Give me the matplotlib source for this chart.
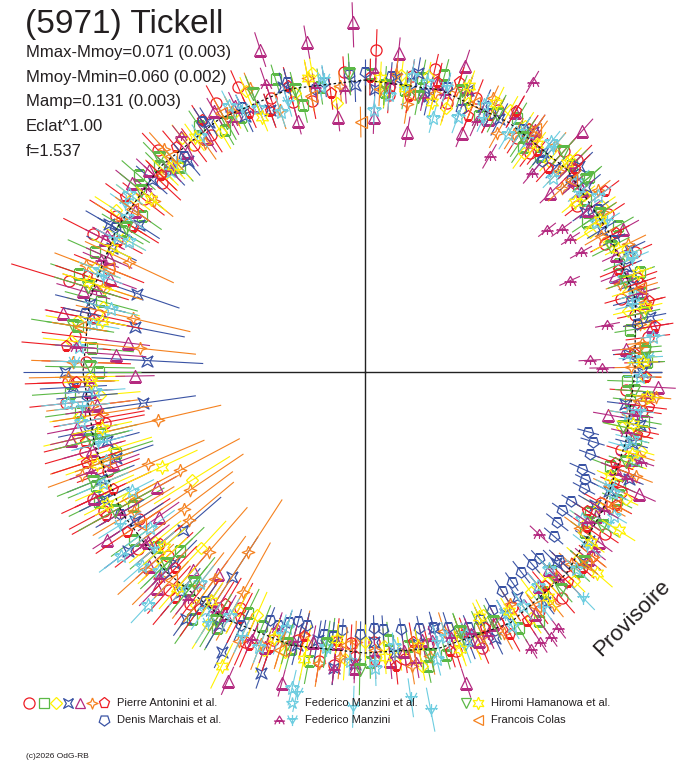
import numpy as np
import matplotlib
matplotlib.use('Agg')
import matplotlib.pyplot as plt
from matplotlib.path import Path

plt.rcParams['font.family'] = ['Liberation Sans', 'DejaVu Sans']

# phase angle (deg, clockwise from top), radius, half error bar
# Pierre Antonini et al. - red circles
pa_circ_ph = [2, 9, 17, 27, 33, 42, 48, 57, 62, 71, 78, 83, 94, 98, 107, 115, 119, 129, 134, 144, 152, 157, 167, 172, 183,
              189, 194, 204, 212, 217, 227, 232, 242, 249, 254, 264, 272, 277, 287, 292, 302, 308, 317, 323, 331, 341, 349, 356,
              5, 13, 22, 37, 45, 52, 66, 74, 88, 102, 111, 124, 139, 148, 162, 178, 186, 199, 208, 222, 237, 245, 259, 268, 282,
              297, 313, 327, 336, 345]
pa_circ_r = [322, 300, 281, 294, 279, 297, 283, 290, 272, 288, 276, 285, 262, 280, 268, 283, 270, 292, 279, 296, 284, 300, 279, 290, 271,
             293, 276, 296, 278, 290, 270, 288, 296, 275, 291, 301, 279, 292, 310, 276, 294, 281, 303, 284, 308, 290, 276, 301,
             278, 311, 296, 274, 300, 269, 296, 266, 279, 285, 276, 289, 300, 277, 293, 270, 295, 283, 267, 293, 270, 300, 265, 297, 272,
             305, 277, 283, 312, 280]
pa_circ_e = [15, 12, 14, 10, 13, 16, 11, 14, 12, 15, 13, 16, 12, 14, 11, 13, 15, 12, 14, 11, 13, 12, 14, 10, 13,
             15, 12, 18, 22, 19, 25, 21, 28, 24, 30, 26, 32, 24, 45, 27, 22, 19, 17, 15, 14, 12, 13, 11,
             13, 11, 14, 12, 15, 11, 13, 12, 14, 11, 13, 12, 14, 12, 13, 11, 14, 16, 20, 23, 27, 25, 29, 31, 28,
             24, 18, 15, 13, 12]

# green squares
pa_sq_ph = [1, 8, 15, 24, 31, 39, 45, 52, 60, 67, 74, 81, 88, 96, 104, 111, 117, 126, 133, 141, 149, 156, 164, 171, 179,
            187, 195, 202, 210, 219, 226, 234, 240, 247, 257, 262, 270, 279, 285, 294, 300, 311, 318, 326, 334, 343, 351,
            4, 11, 20, 35, 49, 56, 70, 85, 92, 100, 114, 122, 137, 145, 160, 168, 175, 191, 206, 215, 230, 244, 252, 266, 275,
            289, 305, 315, 330, 347]
pa_sq_r = [298, 285, 307, 280, 296, 278, 293, 280, 292, 276, 287, 268, 282, 266, 279, 262, 283, 272, 292, 283, 299, 280, 294, 277, 290,
           266, 287, 274, 296, 280, 257, 286, 268, 292, 272, 288, 266, 291, 273, 296, 281, 300, 276, 297, 284, 306, 289,
           281, 300, 291, 275, 297, 268, 293, 281, 262, 283, 279, 265, 272, 304, 276, 301, 269, 294, 268, 301, 272, 296, 262, 296, 274,
           302, 272, 291, 279, 274]
pa_sq_e = [11, 14, 12, 10, 13, 12, 15, 11, 13, 12, 14, 11, 13, 12, 10, 14, 12, 13, 11, 15, 12, 13, 11, 14, 12,
           13, 15, 16, 18, 21, 24, 20, 26, 22, 28, 25, 30, 23, 27, 21, 18, 16, 14, 13, 12, 11, 13,
           12, 13, 11, 14, 12, 13, 11, 12, 14, 13, 12, 11, 13, 12, 14, 12, 13, 17, 19, 22, 25, 24, 28, 27, 30,
           22, 17, 14, 12, 13]

# yellow diamonds
pa_dia_ph = [4, 12, 21, 29, 36, 44, 51, 58, 66, 73, 80, 87, 95, 102, 109, 116, 124, 131, 139, 146, 154, 161, 169, 176, 184,
             192, 200, 208, 216, 223, 231, 238, 246, 253, 261, 269, 276, 284, 291, 299, 307, 315, 322, 329, 337, 346, 354,
             7, 17, 33, 41, 55, 62, 77, 91, 106, 120, 135, 143, 158, 173, 180, 196, 204, 212, 227, 242, 257, 265, 280, 288, 303,
             318, 333, 350]
pa_dia_r = [282, 303, 288, 300, 271, 295, 282, 265, 289, 275, 283, 276, 285, 263, 281, 290, 268, 284, 278, 297, 270, 286, 299, 275, 288,
            278, 296, 270, 288, 240, 270, 204, 285, 262, 290, 275, 296, 270, 289, 276, 290, 282, 297, 280, 305, 288, 270,
            299, 276, 293, 280, 289, 276, 270, 280, 287, 270, 296, 276, 291, 284, 270, 291, 266, 297, 277, 268, 295, 266, 292, 273, 297,
            279, 290, 304]
pa_dia_e = [12, 10, 13, 11, 14, 12, 10, 13, 11, 12, 14, 12, 11, 13, 12, 10, 14, 12, 11, 13, 12, 14, 11, 13, 15,
            14, 17, 19, 22, 26, 24, 32, 23, 28, 21, 25, 20, 27, 19, 17, 15, 13, 12, 14, 11, 12, 13,
            11, 13, 12, 10, 12, 13, 11, 12, 10, 13, 11, 12, 14, 12, 13, 15, 18, 21, 24, 27, 25, 29, 23, 26, 18,
            14, 12, 11]

# blue concave stars
pa_bst_ph = [6, 13, 20, 28, 35, 43, 50, 59, 65, 72, 79, 90, 97, 105, 112, 120, 127, 135, 142, 150, 159, 165, 174, 182, 190,
             199, 207, 213, 216, 220, 229, 237, 244, 251, 258, 262, 267, 273, 281, 289, 296, 303, 312, 320, 328, 335, 344, 358,
             2, 10, 24, 39, 46, 54, 68, 75, 86, 101, 116, 131, 146, 154, 169, 178, 186, 194, 210, 225, 233, 248, 255, 270, 284,
             300, 316, 340]
pa_bst_r = [296, 283, 300, 286, 293, 279, 288, 276, 291, 282, 290, 277, 262, 276, 285, 266, 280, 270, 292, 280, 288, 265, 283, 292, 272,
            318, 314, 244, 305, 287, 241, 274, 290, 263, 283, 224, 292, 218, 234, 241, 282, 270, 287, 276, 295, 283, 296, 287,
            283, 304, 291, 283, 297, 272, 282, 275, 264, 280, 271, 289, 272, 296, 277, 270, 298, 281, 292, 270, 297, 285, 267, 300, 283,
            296, 279, 279]
pa_bst_e = [12, 14, 11, 13, 12, 10, 14, 12, 13, 11, 12, 14, 13, 12, 11, 14, 12, 13, 11, 12, 14, 12, 13, 11, 14,
            12, 13, 34, 15, 22, 36, 24, 20, 28, 22, 38, 24, 40, 36, 32, 20, 18, 15, 14, 12, 13, 11, 12,
            12, 11, 13, 12, 14, 11, 12, 13, 11, 12, 14, 12, 11, 13, 12, 14, 12, 15, 19, 23, 21, 26, 24, 30, 26,
            19, 14, 12]

# purple triangles
pa_tri_ph = [358, 350, 342, 6, 18, 345, 10, 2, 354, 22, 30, 42, 46, 54, 61, 69, 76, 85, 93, 100, 108, 114, 122, 130, 137,
             145, 153, 162, 168, 175, 182, 191, 195, 204, 214, 216, 221, 228, 235, 237, 241, 245, 250, 257, 259, 266, 269,
             274, 277, 281, 290, 297, 305, 313, 321, 330, 338,
             14, 26, 35, 50, 65, 81, 97, 111, 126, 141, 157, 172, 186, 200, 210, 224, 232, 254, 263, 286, 294, 309, 317, 326, 334]
pa_tri_r = [350, 335, 339, 321, 322, 260, 244, 255, 256, 258, 300, 324, 257, 276, 295, 268, 290, 262, 293, 247, 281, 300, 272, 291, 270,
            296, 283, 327, 274, 290, 296, 275, 322, 338, 275, 250, 262, 290, 252, 308, 238, 299, 268, 302, 293, 276, 230,
            250, 239, 308, 271, 292, 281, 296, 283, 301, 287,
            298, 281, 296, 283, 277, 291, 274, 268, 289, 276, 292, 282, 272, 293, 280, 300, 276, 284, 270, 293, 280, 300, 286, 282, 296]
pa_tri_e = [18, 12, 13, 11, 12, 10, 11, 12, 10, 11, 13, 12, 10, 12, 13, 11, 12, 10, 13, 11, 12, 13, 11, 12, 10,
            13, 12, 11, 12, 13, 11, 12, 10, 11, 14, 12, 16, 13, 18, 12, 16, 14, 20, 15, 22, 18, 14,
            22, 16, 13, 20, 16, 14, 12, 13, 11, 12,
            12, 11, 13, 12, 11, 12, 13, 11, 12, 13, 11, 12, 13, 12, 16, 18, 20, 22, 24, 20, 18, 15, 13, 12, 11]

# orange concave stars
pa_ost_ph = [3, 9, 18, 25, 32, 40, 47, 56, 64, 71, 80, 89, 95, 103, 111, 119, 126, 133, 141, 148, 156, 163, 171, 178, 185,
             193, 201, 209, 213, 218, 221, 225, 230, 233, 236, 241, 242, 247, 252, 257, 263, 269, 276, 283, 288,
             295, 302, 309, 318, 325, 333, 342, 349, 355,
             6, 14, 29, 36, 44, 52, 60, 76, 84, 99, 107, 115, 129, 137, 152, 160, 167, 182, 189, 197, 205, 216, 228, 239, 250,
             261, 272, 291, 314, 338]
pa_ost_r = [283, 271, 296, 302, 281, 296, 270, 287, 293, 270, 279, 266, 292, 277, 290, 281, 266, 282, 300, 274, 289, 271, 298, 278, 286,
            270, 291, 251, 215, 271, 238, 290, 230, 227, 211, 262, 209, 236, 289, 212, 275, 297, 226, 238, 276,
            260, 288, 272, 300, 279, 293, 275, 299, 287,
            300, 288, 273, 291, 279, 296, 272, 289, 279, 266, 286, 270, 294, 280, 296, 277, 291, 270, 295, 280, 297, 256, 295, 270, 301,
            266, 292, 299, 283, 306]
pa_ost_e = [12, 14, 12, 10, 13, 12, 14, 12, 14, 11, 12, 13, 11, 12, 13, 12, 14, 12, 11, 13, 12, 14, 13, 15, 16,
            18, 20, 40, 45, 30, 42, 28, 42, 44, 46, 35, 48, 44, 30, 46, 33, 28, 40, 42, 30,
            35, 22, 18, 16, 14, 12, 14, 12, 11,
            11, 13, 12, 14, 12, 11, 13, 12, 11, 14, 12, 13, 12, 11, 13, 12, 14, 15, 17, 20, 22, 38, 27, 34, 26,
            36, 30, 24, 16, 12]

# red pentagons
pa_pen_ph = [5, 14, 22, 30, 38, 46, 53, 61, 68, 76, 81, 91, 103, 110, 118, 125, 132, 140, 147, 155, 163, 170, 178, 186, 199,
             207, 215, 224, 236, 245, 252, 260, 268, 281, 289, 298, 306, 314, 327, 336, 345, 353,
             1, 9, 18, 26, 34, 42, 57, 72, 86, 97, 114, 122, 136, 151, 159, 174, 182, 193, 203, 211, 220, 230, 241, 256, 275,
             302, 320, 340]
pa_pen_r = [285, 299, 276, 301, 280, 292, 300, 287, 273, 293, 294, 281, 279, 266, 284, 271, 293, 280, 297, 283, 292, 274, 289, 270, 291,
            276, 289, 273, 287, 278, 293, 270, 289, 276, 294, 280, 297, 283, 300, 284, 296, 281,
            295, 279, 305, 286, 293, 274, 280, 289, 270, 286, 273, 262, 292, 300, 280, 296, 284, 271, 297, 271, 295, 268, 296, 289, 300,
            274, 294, 278]
pa_pen_e = [12, 14, 11, 13, 12, 15, 13, 11, 14, 12, 13, 11, 12, 14, 13, 12, 11, 14, 12, 13, 12, 14, 13, 16, 18,
            20, 24, 22, 27, 30, 26, 33, 28, 35, 24, 20, 17, 15, 13, 12, 14, 12,
            13, 12, 11, 14, 12, 13, 11, 12, 14, 13, 11, 12, 13, 14, 12, 13, 12, 15, 17, 22, 25, 21, 28, 30, 32,
            22, 15, 13]

# Denis Marchais et al. - blue inverted pentagons
dm_ph = [5, 12, 20, 33, 40, 55, 70, 80, 95, 105, 107, 110, 114, 118, 122, 125, 128, 137, 139, 142, 145, 148, 152, 158, 162,
         168, 172, 176, 181, 185, 189, 193, 197, 201, 206, 215, 240, 265, 300, 320, 335, 350, 357, 345, 352,
         0, 9, 16, 26, 47, 62, 88, 100, 116, 131, 134, 155, 165, 178, 187, 195, 199, 225, 282, 327]
dm_r = [297, 285, 280, 290, 276, 285, 283, 276, 282, 231, 238, 239, 238, 248, 243, 241, 244, 255, 254, 254, 256, 258, 270, 275, 268,
        262, 260, 258, 262, 259, 265, 260, 261, 266, 282, 279, 283, 279, 289, 282, 292, 287, 298, 300, 293,
        300, 293, 297, 288, 281, 282, 281, 272, 245, 250, 270, 272, 264, 256, 266, 258, 268, 284, 286, 299]
dm_e = [10, 9, 11, 10, 12, 9, 11, 10, 9, 8, 9, 8, 10, 9, 8, 9, 10, 8, 9, 10, 8, 9, 10, 9, 11,
        9, 8, 10, 9, 8, 10, 9, 8, 10, 12, 14, 20, 22, 14, 12, 10, 11, 9, 10, 11,
        9, 10, 9, 11, 10, 9, 10, 9, 8, 9, 10, 9, 8, 9, 10, 9, 8, 12, 16, 11]

# Federico Manzini et al. - cyan stars
fme_ph = [2, 9, 15, 24, 31, 39, 48, 57, 66, 74, 83, 91, 99, 108, 116, 124, 133, 141, 150, 159, 166, 174, 183, 193, 201,
          209, 218, 223, 226, 229, 233, 234, 243, 251, 260, 264, 266, 275, 284, 291, 299, 307, 316, 325, 333, 342, 351,
          5, 12, 20, 35, 44, 53, 70, 87, 104, 120, 137, 146, 163, 178, 188, 197, 214, 247, 256, 280, 303, 338]
fme_r = [262, 300, 263, 292, 278, 296, 285, 276, 290, 281, 290, 275, 266, 284, 276, 262, 289, 275, 293, 281, 296, 276, 289, 324, 295,
         279, 268, 318, 286, 296, 305, 266, 262, 274, 288, 299, 271, 287, 262, 284, 270, 295, 279, 288, 299, 273, 290,
         278, 296, 271, 283, 270, 292, 276, 268, 275, 287, 270, 282, 277, 296, 278, 268, 287, 285, 270, 276, 284, 285]
fme_e = [10, 12, 11, 9, 13, 10, 12, 11, 10, 12, 9, 11, 13, 10, 12, 11, 10, 12, 11, 9, 12, 10, 11, 13, 12,
         14, 16, 18, 15, 17, 20, 22, 18, 20, 16, 19, 22, 17, 20, 16, 14, 12, 11, 10, 12, 11, 10,
         11, 10, 12, 11, 10, 12, 11, 10, 12, 11, 10, 12, 11, 13, 12, 14, 17, 20, 22, 19, 15, 11]

# Federico Manzini - purple tripods and cyan tri
fm_a_ph = [5, 12, 20, 30, 30, 36, 40, 45, 52, 54, 57, 61, 66, 70, 79, 87, 89, 95, 103, 112, 120, 128, 133, 137, 143,
           145, 147, 149, 155, 162, 170, 178, 186, 195, 203, 212, 225, 240, 250, 262, 275, 287, 298, 310, 322, 332, 341, 350,
           2, 16, 24, 48, 74, 99, 108, 124, 158, 166, 182, 199, 218, 232, 268, 293, 316, 356]
fm_a_r = [290, 281, 298, 335, 249, 283, 260, 290, 231, 243, 245, 247, 224, 279, 247, 225, 237, 282, 268, 283, 276, 290, 238, 283, 321,
          324, 322, 323, 290, 279, 294, 283, 299, 279, 290, 282, 291, 283, 292, 283, 290, 281, 292, 286, 299, 284, 305, 289,
          300, 289, 275, 280, 288, 275, 290, 268, 282, 276, 292, 271, 288, 279, 276, 287, 281, 283]
fm_a_e = [11, 10, 12, 9, 10, 11, 10, 12, 8, 9, 8, 9, 8, 11, 9, 8, 9, 10, 11, 10, 12, 11, 9, 10, 9,
          8, 9, 8, 11, 10, 12, 11, 10, 12, 11, 13, 15, 17, 16, 14, 15, 13, 12, 11, 10, 11, 12, 10,
          10, 11, 12, 10, 11, 12, 10, 11, 12, 10, 11, 12, 14, 17, 18, 14, 12, 10]

fm_b_ph = [8, 25, 40, 58, 76, 98, 115, 128, 136, 150, 160, 169, 172, 178, 182, 188, 192, 205, 220, 238, 255, 272, 290, 305, 318, 335, 352,
           16, 33, 50, 67, 87, 106, 122, 143, 165, 198, 212, 230, 263, 298, 344]
fm_b_r = [286, 279, 293, 285, 275, 278, 270, 282, 314, 279, 293, 344, 329, 290, 335, 281, 328, 292, 283, 289, 276, 291, 279, 293, 282, 290, 296,
          296, 287, 279, 290, 283, 270, 287, 296, 280, 276, 296, 275, 285, 284, 281]
fm_b_e = [12, 10, 13, 11, 12, 10, 11, 13, 12, 11, 12, 16, 14, 12, 15, 11, 14, 13, 16, 18, 20, 17, 15, 13, 12, 11, 10,
          11, 12, 10, 13, 11, 12, 10, 11, 13, 15, 17, 19, 20, 15, 11]

# Hiromi Hamanowa et al. - green down triangles and yellow 6-stars
hh_a_ph = [4, 19, 34, 49, 63, 78, 94, 109, 123, 138, 153, 167, 181, 196, 211, 226, 241, 256, 271, 287, 301, 316, 331, 346, 357,
           11, 27, 42, 56, 71, 86, 102, 131, 160, 188, 219, 248, 279, 309, 338]
hh_a_r = [287, 297, 282, 293, 276, 285, 270, 276, 282, 293, 281, 290, 298, 283, 290, 276, 286, 282, 275, 290, 279, 297, 285, 291, 298,
          280, 290, 296, 283, 275, 281, 264, 290, 277, 275, 272, 293, 296, 288, 300]
hh_a_e = [14, 12, 16, 13, 15, 12, 14, 13, 16, 12, 14, 13, 18, 15, 22, 26, 30, 28, 32, 25, 20, 16, 14, 13, 15,
          13, 15, 12, 14, 13, 12, 15, 13, 14, 17, 24, 28, 30, 20, 14]

hh_b_ph = [3, 14, 26, 37, 51, 64, 77, 88, 101, 113, 122, 127, 131, 149, 161, 176, 186, 199, 206, 214, 229, 243, 245, 258, 268,
           281, 296, 309, 324, 338, 349,
           8, 20, 44, 57, 70, 95, 107, 141, 155, 169, 192, 221, 251, 288, 317]
hh_b_r = [294, 278, 299, 285, 270, 281, 287, 278, 273, 266, 299, 283, 307, 279, 293, 286, 268, 281, 327, 276, 266, 290, 224, 269, 274,
          268, 282, 275, 290, 275, 300,
          287, 304, 291, 280, 290, 283, 279, 290, 270, 279, 293, 286, 283, 290, 282]
hh_b_e = [12, 10, 13, 11, 12, 10, 13, 11, 12, 10, 14, 12, 15, 11, 13, 12, 11, 14, 18, 16, 20, 18, 28, 22, 20,
          18, 16, 14, 12, 11, 13,
          11, 12, 10, 13, 11, 12, 10, 13, 11, 12, 16, 20, 24, 20, 13]

# Francois Colas - orange left triangles
fc_ph = [359, 22, 47, 73, 96, 118, 144, 170, 197, 223, 251, 279, 305, 331, 349, 9, 35, 85, 131, 184, 236, 292, 318]
fc_r = [250, 290, 282, 288, 276, 283, 289, 280, 291, 284, 276, 289, 284, 296, 281, 281, 297, 270, 292, 274, 272, 277, 290]
fc_e = [11, 12, 10, 13, 11, 12, 10, 12, 14, 18, 22, 20, 15, 12, 11, 11, 12, 10, 12, 13, 20, 18, 13]

# fitted curve
model_ph = [0, 15, 30, 45, 60, 75, 90, 105, 120, 135, 150, 165, 180, 195, 210, 225, 240, 255, 270, 285, 300, 315, 330, 345, 360]
model_r = [292, 292, 288, 286, 281, 280, 270, 270, 275, 285, 290, 286, 281, 283, 284, 282, 281, 280, 282, 285, 287, 290, 292, 293, 292]

stats = ['Mmax-Mmoy=0.071 (0.003)', 'Mmoy-Mmin=0.060 (0.002)', 'Mamp=0.131 (0.003)', 'Eclat^1.00', 'f=1.537']

RED = '#ed1c24'
GREEN = '#5cb946'
YELLOW = '#fff200'
BLUE = '#3a53a4'
PURPLE = '#b42a80'
ORANGE = '#f58220'
CYAN = '#6dcde0'

ERR_SCALE = 1.4  # error bars read a bit short, stretch them

# custom marker shapes
star4 = Path([(0, 1), (0.28, 0.28), (1, 0), (0.28, -0.28), (0, -1), (-0.28, -0.28), (-1, 0), (-0.28, 0.28), (0, 1)])
star4x = Path([(1, 1), (0.45, 0), (1, -1), (0, -0.45), (-1, -1), (-0.45, 0), (-1, 1), (0, 0.45), (1, 1)])
M, L = Path.MOVETO, Path.LINETO
tripod = Path([(-0.55, -0.1), (0.55, -0.1), (0, 0.8), (-0.55, -0.1),
               (-1, -0.1), (1, -0.1),
               (-0.55, -0.1), (-0.85, -0.7),
               (0.55, -0.1), (0.85, -0.7),
               (0, -0.1), (0, -0.6)],
              [M, L, L, L, M, L, M, L, M, L, M, L])
tridown = Path([(-0.55, 0.3), (0.55, 0.3), (0, -0.6), (-0.55, 0.3),
                (-1, 0.3), (1, 0.3),
                (0, 1), (0, -1),
                (-0.55, 0.3), (-0.85, 0.9),
                (0.55, 0.3), (0.85, 0.9)],
               [M, L, L, L, M, L, M, L, M, L, M, L])

series = [
    (pa_circ_ph, pa_circ_r, pa_circ_e, 'o', RED, 8),
    (pa_sq_ph, pa_sq_r, pa_sq_e, 's', GREEN, 7),
    (pa_dia_ph, pa_dia_r, pa_dia_e, 'D', YELLOW, 6),
    (pa_bst_ph, pa_bst_r, pa_bst_e, star4x, BLUE, 8),
    (pa_tri_ph, pa_tri_r, pa_tri_e, '^', PURPLE, 8),
    (pa_ost_ph, pa_ost_r, pa_ost_e, star4, ORANGE, 9),
    (pa_pen_ph, pa_pen_r, pa_pen_e, 'p', RED, 8),
    (dm_ph, dm_r, dm_e, (5, 0, 180), BLUE, 8),
    (fme_ph, fme_r, fme_e, '*', CYAN, 10),
    (fm_a_ph, fm_a_r, fm_a_e, tripod, PURPLE, 9),
    (fm_b_ph, fm_b_r, fm_b_e, tridown, CYAN, 9),
    (hh_a_ph, hh_a_r, hh_a_e, 'v', GREEN, 8),
    (hh_b_ph, hh_b_r, hh_b_e, (6, 1, 0), YELLOW, 10),
    (fc_ph, fc_r, fc_e, '<', ORANGE, 8),
]

W, H = 688, 768
fig = plt.figure(figsize=(W / 100, H / 100), dpi=100)

cx, cy, R = 365, 372, 370
ax = fig.add_axes([(cx - R) / W, (H - cy - R) / H, 2 * R / W, 2 * R / H], projection='polar')
ax.set_theta_zero_location('N')
ax.set_theta_direction(-1)
ax.set_ylim(0, R)
ax.set_axis_off()

# cross through the centre
for ang, length in [(0, 297), (90, 296), (180, 284), (270, 298)]:
    ax.plot([np.radians(ang)] * 2, [0, length], color='#222222', lw=1.0, zorder=1)

for ph, r, e, mk, col, ms in series:
    th = np.radians(ph)
    r = np.array(r)
    e = np.array(e) * ERR_SCALE
    ax.vlines(th, r - e, r + e, colors=col, lw=0.8, zorder=2)
    ax.plot(th, r, ls='none', marker=mk, ms=ms, mfc='none', mec=col, mew=0.9, zorder=2)

ax.plot(np.radians(model_ph), model_r, color='#111111', lw=0.9, ls=(0, (2, 2)), zorder=5)

# overlay in pixel coordinates for texts and legend
ov = fig.add_axes([0, 0, 1, 1])
ov.set_xlim(0, W)
ov.set_ylim(H, 0)
ov.set_axis_off()

ov.text(25, 33, '(5971) Tickell', fontsize=24, color='#231f20', va='baseline', ha='left')
for i, s in enumerate(stats):
    ov.text(26, 57 + i * 24.7, s, fontsize=12, color='#231f20', va='baseline', ha='left')

ov.text(632, 618, 'Provisoire', fontsize=16, color='#231f20', rotation=45,
        ha='center', va='center', rotation_mode='anchor')

# legend
leg_rows = [
    ([('o', RED, 8, 29), ('s', GREEN, 6.5, 44), ('D', YELLOW, 6, 56), (star4x, BLUE, 7, 68),
      ('^', PURPLE, 7.5, 80), (star4, ORANGE, 8, 92), ('p', RED, 8, 104)], 117, 703, 'Pierre Antonini et al.'),
    ([((5, 0, 180), BLUE, 8, 104)], 117, 720, 'Denis Marchais et al.'),
    ([('*', CYAN, 9, 292)], 305, 703, 'Federico Manzini et al.'),
    ([(tripod, PURPLE, 8, 279), (tridown, CYAN, 8, 292)], 305, 720, 'Federico Manzini'),
    ([('v', GREEN, 7, 466), ((6, 1, 0), YELLOW, 9, 478)], 491, 703, 'Hiromi Hamanowa et al.'),
    ([('<', ORANGE, 7.5, 478)], 491, 720, 'Francois Colas'),
]
for marks, tx, ty, label in leg_rows:
    for mk, col, ms, mx in marks:
        ov.plot([mx], [ty], ls='none', marker=mk, ms=ms, mfc='none', mec=col, mew=0.9)
    ov.text(tx, ty, label, fontsize=8, color='#231f20', va='center', ha='left')

ov.text(26, 757, '(c)2026 OdG-RB', fontsize=6, color='#231f20', va='center', ha='left')

fig.savefig('out.png', dpi=100)
